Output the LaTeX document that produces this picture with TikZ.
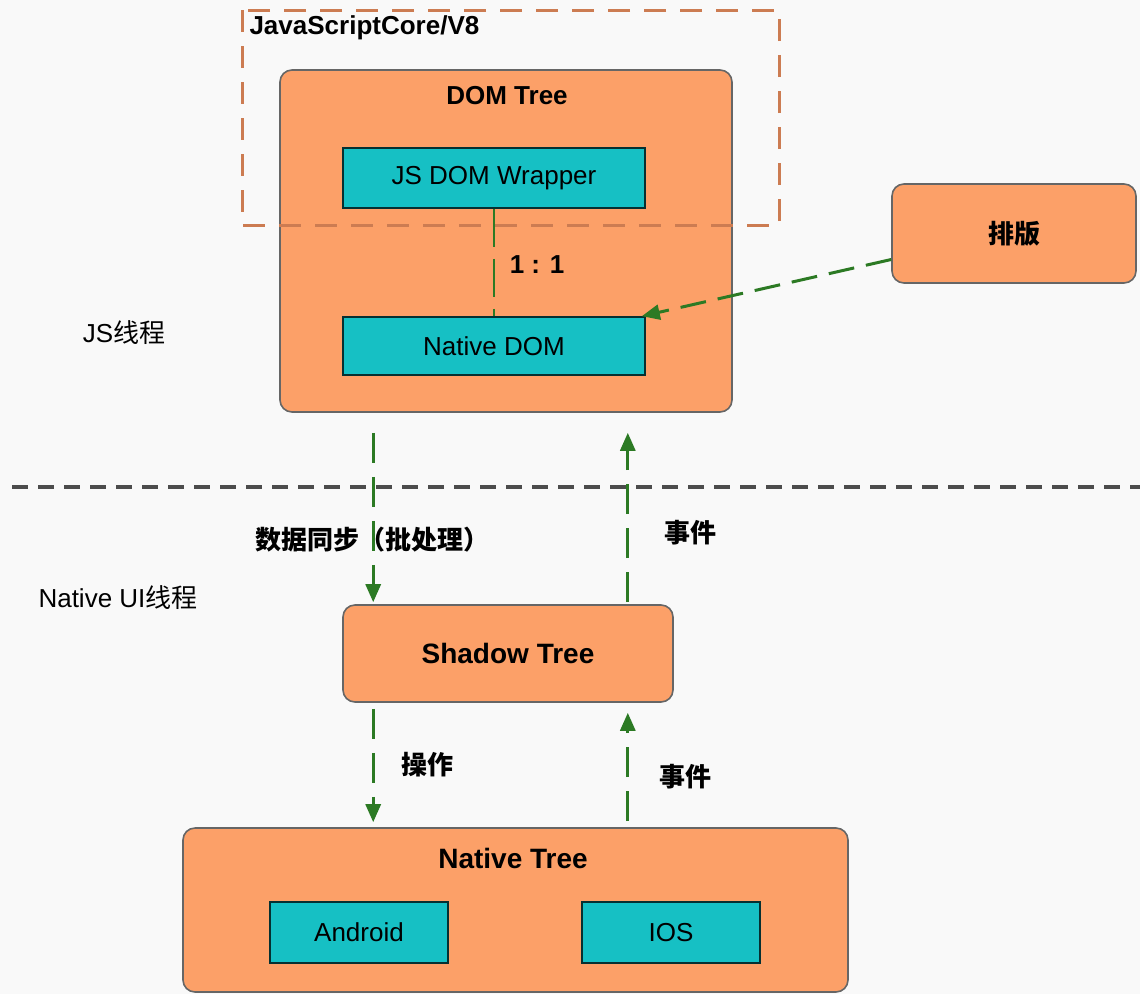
\documentclass[tikz,border=0pt]{standalone}
\usepackage{fontspec}
\setmainfont{Liberation Sans}
\newfontfamily\cjk{Noto Sans CJK SC}
\usetikzlibrary{arrows.meta}

\definecolor{treeorange}{RGB}{252,160,104}
\definecolor{leafteal}{RGB}{22,192,196}
\definecolor{flowgreen}{RGB}{44,122,36}
\definecolor{framebrown}{RGB}{204,124,82}
\definecolor{paper}{RGB}{249,249,249}

\begin{document}
\begin{tikzpicture}[x=1pt,y=-1pt,
  treebox/.style={draw=black!60,line width=1.6pt,fill=treeorange,rounded corners=12pt},
  leafbox/.style={draw=black!75!leafteal,line width=1.6pt,fill=leafteal,font=\fontsize{26}{30}\selectfont},
  title/.style={font=\fontsize{26}{30}\selectfont\bfseries},
  bigtitle/.style={font=\fontsize{28}{32}\selectfont\bfseries},
  plain/.style={font=\fontsize{26}{30}\selectfont},
  cjklabel/.style={font=\fontsize{26}{30}\selectfont\cjk\bfseries},
  flow/.style={draw=flowgreen,line width=3pt,dash pattern=on 30pt off 14pt},
  flowto/.style={flow,-{Triangle[length=18pt,width=15pt]}}]
  \fill[paper] (0,0) rectangle (1140,994);
  \useasboundingbox (0,0) rectangle (1140,994);

  % JS side
  \node[treebox,minimum width=452pt,minimum height=342pt] (domtree) at (506,241) {};
  \node[title] (domtitle) at (507,96) {DOM Tree};
  \node[leafbox,minimum width=302pt,minimum height=60pt] (wrapper) at (494,178) {JS DOM Wrapper};
  \node[leafbox,minimum width=302pt,minimum height=58pt] (nativedom) at (494,346) {Native DOM};
  \node[treebox,minimum width=244pt,minimum height=99pt,cjklabel] (layout) at (1014,233.5) {排版};
  \draw[draw=framebrown,line width=3pt,dash pattern=on 22pt off 14pt] (242,10) rectangle (779,225);
  \node[title,anchor=west] (engine) at (246,28) {JavaScriptCore/V8};
  \draw[flow,dash pattern=on 38pt off 12pt,line width=2.5pt] (wrapper) -- (nativedom);
  \node[title] (ratio) at (537,265) {1 : 1};
  \coordinate (layoutout) at ([yshift=-26pt]layout.west);
  \draw[flowto,dash pattern=on 26pt off 12pt] (layoutout) -- ([xshift=-4pt]nativedom.north east);
  \node[plain] (jsthread) at (124,333) {JS\cjk 线程};

  % thread border
  \coordinate (borderl) at (12,487);
  \coordinate (borderr) at (1140,487);
  \draw[black!70,line width=4pt,dash pattern=on 16pt off 10pt] (borderl) -- (borderr);

  % native side
  \node[plain] (uithread) at (118,598) {Native UI\cjk 线程};
  \node[treebox,minimum width=330pt,minimum height=97pt,bigtitle] (shadow) at (508,653.5) {Shadow Tree};
  \coordinate (syncdown) at ([xshift=31pt]shadow.north west);
  \coordinate (eventup) at ([xshift=-46pt]shadow.north east);
  \draw[flowto,shorten <=20pt,shorten >=2pt] (domtree.south -| syncdown) -- (syncdown);
  \draw[flowto,shorten >=20pt,shorten <=2pt] (eventup) -- (domtree.south -| eventup);
  \node[cjklabel] (synclabel) at (372,540) {数据同步（批处理）};
  \node[cjklabel] (eventlabel) at (690,533) {事件};

  \node[treebox,minimum width=665pt,minimum height=164pt] (nativetree) at (515.5,910) {};
  \node[bigtitle] (nativetitle) at (513,858) {Native Tree};
  \node[leafbox,minimum width=178pt,minimum height=61pt] (android) at (359,932.5) {Android};
  \node[leafbox,minimum width=178pt,minimum height=61pt] (ios) at (671,932.5) {IOS};
  \draw[flowto,shorten <=6pt,shorten >=5pt] (shadow.south -| syncdown) -- (nativetree.north -| syncdown);
  \draw[flowto,shorten <=6pt,shorten >=10pt] (nativetree.north -| eventup) -- (shadow.south -| eventup);
  \node[cjklabel] (oplabel) at (427,765) {操作};
  \node[cjklabel] (eventlabel2) at (685,777) {事件};
\end{tikzpicture}
\end{document}
